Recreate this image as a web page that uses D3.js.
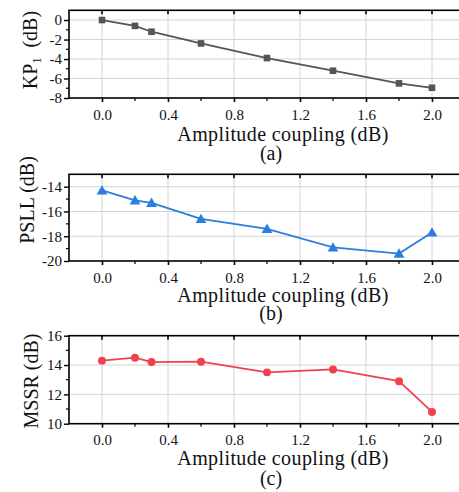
<!DOCTYPE html>
<html><head><meta charset="utf-8">
<script src="https://cdn.jsdelivr.net/npm/d3@7"></script>
<style>body{margin:0;background:#fff}svg{display:block}svg text{font-family:"Liberation Serif","Times New Roman",serif !important;fill:#111}</style>
</head><body><svg id="c" width="459" height="492" font-family="Liberation Serif"></svg>
<script>
const xValues = [0, 0.2, 0.3, 0.6, 1.0, 1.4, 1.8, 2.0];
const kpValues = [0, -0.6, -1.2, -2.4, -3.9, -5.2, -6.5, -6.95];
const psllValues = [-14.3, -15.1, -15.3, -16.6, -17.4, -18.9, -19.4, -17.7];
const mssrValues = [14.3, 14.5, 14.2, 14.23, 13.5, 13.7, 12.9, 10.8];
const xTickLabels = [0.0, 0.4, 0.8, 1.2, 1.6, 2.0];
const kpTicks = [0, -2, -4, -6, -8];
const psllTicks = [-14, -16, -18, -20];
const mssrTicks = [10, 12, 14, 16];

const FONT = "'Liberation Serif', 'Times New Roman', serif";
const svg = d3.select("#c");
const x = d3.scaleLinear().domain([-0.2, 2.2]).range([69, 465]);

const panels = [
  {vals: kpValues, dom: [-8, 1], top: 10.3, bot: 98, ticks: kpTicks, minor: d3.range(-7, 1, 2),
   color: "#555555", marker: "square", ylabel: "KP1", ylx: 37, yly: 50, xly: 141, cap: "(a)", capy: 160},
  {vals: psllValues, dom: [-20, -13], top: 174.3, bot: 261, ticks: psllTicks, minor: [-19, -17, -15, -13],
   color: "#2a7de1", marker: "triangle", ylabel: "PSLL", ylx: 34, yly: 200, xly: 302, cap: "(b)", capy: 320},
  {vals: mssrValues, dom: [10, 16], top: 335.7, bot: 423.7, ticks: mssrTicks, minor: [11, 13, 15],
   color: "#f0424e", marker: "circle", ylabel: "MSSR", ylx: 38, yly: 381, xly: 465, cap: "(c)", capy: 485}
];

panels.forEach(p => {
  const y = d3.scaleLinear().domain(p.dom).range([p.bot, p.top]);
  const g = svg.append("g");
  const x0 = x.range()[0], x1 = x.range()[1];
  g.selectAll(".gx").data(xTickLabels).join("line")
    .attr("x1", d => x(d)).attr("x2", d => x(d)).attr("y1", p.top).attr("y2", p.bot)
    .attr("stroke", "#d4d4d4").attr("stroke-width", 1);
  g.selectAll(".gy").data(p.ticks.filter(t => t > p.dom[0] && t < p.dom[1])).join("line")
    .attr("x1", x0).attr("x2", x1).attr("y1", d => y(d)).attr("y2", d => y(d))
    .attr("stroke", "#d4d4d4").attr("stroke-width", 1);
  g.append("rect").attr("x", x0).attr("y", p.top).attr("width", x1 - x0).attr("height", p.bot - p.top)
    .attr("fill", "none").attr("stroke", "#000").attr("stroke-width", 1.6);
  const xa = g.append("g").attr("transform", `translate(0,${p.bot})`)
    .call(d3.axisBottom(x).tickValues(xTickLabels).tickFormat(d3.format(".1f")).tickSize(4).tickPadding(7));
  xa.attr("font-family", FONT);
  xa.select(".domain").remove();
  xa.selectAll("line").attr("stroke-width", 1.6);
  xa.selectAll("text").style("font-size", "15px").style("font-family", FONT);
  const xm = d3.range(0, 2.01, 0.2).filter(v => Math.abs((v / 0.4) - Math.round(v / 0.4)) > 0.01);
  g.selectAll(".mx").data(xm).join("line").attr("x1", d => x(d)).attr("x2", d => x(d))
    .attr("y1", p.bot).attr("y2", p.bot + 3).attr("stroke", "#000").attr("stroke-width", 1.2);
  g.selectAll(".tx").data(xTickLabels).join("line").attr("x1", d => x(d)).attr("x2", d => x(d))
    .attr("y1", p.top).attr("y2", p.top + 4).attr("stroke", "#000").attr("stroke-width", 1.6);
  const ya = g.append("g").attr("transform", `translate(${x0},0)`)
    .call(d3.axisLeft(y).tickValues(p.ticks).tickSize(5).tickPadding(2));
  ya.attr("font-family", FONT);
  ya.select(".domain").remove();
  ya.selectAll("line").attr("stroke-width", 1.4);
  ya.selectAll("text").style("font-size", "15px").style("font-family", FONT)
    .text(d => (d < 0 ? "-" : "") + Math.abs(d));
  g.selectAll(".my").data(p.minor.filter(v => v > p.dom[0] && v < p.dom[1])).join("line")
    .attr("x1", x0 - 3).attr("x2", x0).attr("y1", d => y(d)).attr("y2", d => y(d))
    .attr("stroke", "#000").attr("stroke-width", 1.2);
  g.selectAll(".ry").data(p.ticks.concat(p.minor).filter(v => v > p.dom[0] && v < p.dom[1])).join("line")
    .attr("x1", x1 - 6).attr("x2", x1).attr("y1", d => y(d)).attr("y2", d => y(d))
    .attr("stroke", "#000").attr("stroke-width", 1.2);
  const pts = xValues.map((v, i) => [v, p.vals[i]]);
  g.append("path").datum(pts).attr("fill", "none").attr("stroke", p.color).attr("stroke-width", 1.8)
    .attr("d", d3.line().x(d => x(d[0])).y(d => y(d[1])));
  const sym = p.marker === "square" ? d3.symbolSquare : p.marker === "triangle" ? d3.symbolTriangle : d3.symbolCircle;
  const size = p.marker === "square" ? 44 : 50;
  g.selectAll(".pt").data(pts).join("path")
    .attr("transform", d => `translate(${x(d[0])},${y(d[1]) + (p.marker === "triangle" ? 1 : 0)})`)
    .attr("d", d3.symbol().type(sym).size(size)).attr("fill", p.color);
  g.append("text").attr("x", 283).attr("y", p.xly).attr("text-anchor", "middle")
    .style("font-family", FONT).style("font-size", "20px").style("letter-spacing", "0.4px")
    .text("Amplitude coupling (dB)");
  g.append("text").attr("x", 271).attr("y", p.capy).attr("text-anchor", "middle")
    .style("font-family", FONT).style("font-size", "20px").text(p.cap);
  const yl = g.append("text").attr("transform", `translate(${p.ylx},${p.yly}) rotate(-90)`)
    .attr("text-anchor", "middle").style("font-family", FONT).style("font-size", "20px");
  if (p.ylabel === "KP1") {
    yl.append("tspan").text("KP");
    yl.append("tspan").attr("dy", 4).style("font-size", "12px").text("1");
    yl.append("tspan").attr("dy", -4).text("\u00a0 (dB)");
  } else {
    yl.text(p.ylabel + " (dB)");
  }
});
</script></body></html>
